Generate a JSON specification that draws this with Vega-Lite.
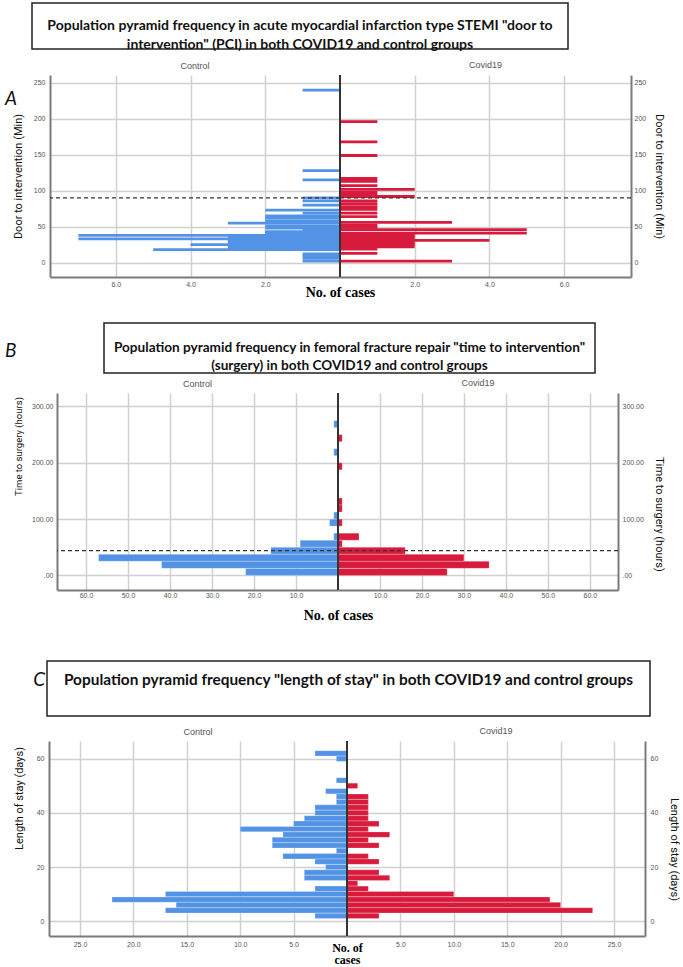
{
 "$schema": "https://vega.github.io/schema/vega-lite/v6.json",
 "padding": {"left": 5, "top": 2, "right": 0, "bottom": 0},
 "background": "white",
 "spacing": 0,
 "datasets": {
  "aCtrl": [{"v":240,"n":1},{"v":128,"n":1},{"v":115,"n":1},{"v":90,"n":1},{"v":86,"n":1},{"v":80,"n":1},{"v":73,"n":2},{"v":69,"n":1},{"v":65,"n":2},{"v":62,"n":2},{"v":58,"n":2},{"v":55,"n":3},{"v":51,"n":2},{"v":48,"n":2},{"v":46,"n":1},{"v":43,"n":2},{"v":41,"n":2},{"v":38,"n":7},{"v":36,"n":3},{"v":33,"n":7},{"v":30,"n":3},{"v":28,"n":3},{"v":25,"n":4},{"v":23,"n":3},{"v":20,"n":3},{"v":18,"n":5},{"v":12,"n":1},{"v":9,"n":1},{"v":6,"n":1},{"v":2,"n":1}],
  "aCov": [{"v":196,"n":1},{"v":168,"n":1},{"v":149,"n":1},{"v":117,"n":1},{"v":113,"n":1},{"v":107,"n":1},{"v":102,"n":2},{"v":98,"n":1},{"v":95,"n":1},{"v":92,"n":2},{"v":86,"n":1},{"v":82,"n":1},{"v":78,"n":1},{"v":74,"n":1},{"v":69,"n":1},{"v":64,"n":1},{"v":56,"n":3},{"v":52,"n":1},{"v":49,"n":1},{"v":46,"n":5},{"v":41,"n":5},{"v":38,"n":2},{"v":35,"n":2},{"v":31,"n":4},{"v":28,"n":2},{"v":25,"n":2},{"v":22,"n":2},{"v":19,"n":1},{"v":13,"n":1},{"v":2,"n":3}],
  "bCtrl": [{"v":268.75,"n":1},{"v":218.75,"n":1},{"v":106.25,"n":1},{"v":93.75,"n":2},{"v":68.75,"n":1},{"v":56.25,"n":9},{"v":43.75,"n":16},{"v":31.25,"n":57},{"v":18.75,"n":42},{"v":6.25,"n":22}],
  "bCov": [{"v":243.75,"n":1},{"v":193.75,"n":1},{"v":131.25,"n":1},{"v":118.75,"n":1},{"v":93.75,"n":1},{"v":68.75,"n":5},{"v":56.25,"n":1},{"v":43.75,"n":16},{"v":31.25,"n":30},{"v":18.75,"n":36},{"v":6.25,"n":26}],
  "cCtrl": [{"v":62,"n":3},{"v":60,"n":1},{"v":52,"n":1},{"v":48,"n":2},{"v":46,"n":1},{"v":44,"n":1},{"v":42,"n":3},{"v":40,"n":3},{"v":38,"n":4},{"v":36,"n":5},{"v":34,"n":10},{"v":32,"n":6},{"v":30,"n":7},{"v":28,"n":7},{"v":26,"n":1},{"v":24,"n":6},{"v":22,"n":3},{"v":20,"n":2},{"v":18,"n":4},{"v":16,"n":4},{"v":12,"n":3},{"v":10,"n":17},{"v":8,"n":22},{"v":6,"n":16},{"v":4,"n":17},{"v":2,"n":3}],
  "cCov": [{"v":50,"n":1},{"v":46,"n":2},{"v":44,"n":2},{"v":42,"n":2},{"v":40,"n":2},{"v":38,"n":2},{"v":36,"n":3},{"v":34,"n":2},{"v":32,"n":4},{"v":30,"n":2},{"v":28,"n":3},{"v":24,"n":2},{"v":22,"n":3},{"v":18,"n":3},{"v":16,"n":4},{"v":14,"n":1},{"v":12,"n":2},{"v":10,"n":10},{"v":8,"n":19},{"v":6,"n":20},{"v":4,"n":23},{"v":2,"n":3}]
 },
 "config": {
  "view": {"stroke": null},
  "font": "Liberation Sans",
  "axis": {"ticks": false, "labelFont": "Liberation Sans", "labelFontSize": 7, "labelColor": "#555", "domainColor": "#7a7a7a", "domainWidth": 2, "gridColor": "#d0d0d0", "gridWidth": 1.5, "titleFont": "Roboto", "titleFontSize": 11, "titleFontWeight": "normal", "titleColor": "#111"},
  "title": {"font": "Liberation Sans", "fontSize": 9, "fontWeight": "normal", "color": "#555", "offset": 4}
 },
 "vconcat": [
  {"hconcat": [
    {"width": 27, "height": 58, "data": {"values": [{}]}, "mark": {"type": "point", "opacity": 0}, "encoding": {}},
    {"width": 536, "height": 46, "data": {"values": [{"t": "Population pyramid frequency in acute myocardial infarction type STEMI \"door to\nintervention\" (PCI) in both COVID19 and control groups"}]},
     "mark": {"type": "text", "font": "Lato", "fontSize": 14, "fontWeight": "bold", "lineBreak": "\n", "lineHeight": 19, "color": "#111"},
     "encoding": {"text": {"field": "t"}}, "view": {"stroke": "#222", "strokeWidth": 1.5}}
   ], "spacing": 0, "bounds": "flush"},
  {"hconcat": [
    {"width": 45, "height": 247, "data": {"values": [{}]}, "mark": {"type": "point", "opacity": 0}, "encoding": {},
     "title": {"text": "A", "anchor": "start", "frame": "group", "font": "Lato", "fontSize": 19, "fontStyle": "italic", "color": "#111", "dy": 34, "offset": 0}},
    {"width": 290, "height": 202, "title": {"text": "Control"},
     "layer": [
      {"data": {"name": "aCtrl"}, "mark": {"type": "bar", "orient": "horizontal", "size": 2.8, "color": "#5393e5"},
       "encoding": {
        "y": {"field": "v", "type": "quantitative", "scale": {"domain": [-13, 254], "nice": false, "zero": false}, "axis": {"orient": "left", "values": [0, 50, 100, 150, 200, 250], "title": "Door to intervention (Min)", "titlePadding": 10, "labelPadding": 5}},
        "x": {"field": "n", "type": "quantitative", "scale": {"domain": [0, 7.76], "reverse": true, "nice": false}, "axis": {"values": [2, 4, 6], "format": ".1f", "title": null, "labelPadding": 3}}}},
      {"data": {"values": [{}]}, "mark": {"type": "rule", "color": "#333", "strokeDash": [4, 3], "strokeWidth": 1.2},
       "encoding": {"y": {"datum": 90, "type": "quantitative", "scale": {"domain": [-13, 254], "nice": false, "zero": false}}}}
     ]},
    {"width": 291, "height": 202, "title": {"text": "Covid19"},
     "layer": [
      {"data": {"name": "aCov"}, "mark": {"type": "bar", "orient": "horizontal", "size": 2.8, "color": "#d81a3d"},
       "encoding": {
        "y": {"field": "v", "type": "quantitative", "scale": {"domain": [-13, 254], "nice": false, "zero": false}, "axis": {"orient": "right", "values": [0, 50, 100, 150, 200, 250], "title": "Door to intervention (Min)", "titlePadding": 8, "labelPadding": 3}},
        "x": {"field": "n", "type": "quantitative", "scale": {"domain": [0, 7.79], "nice": false}, "axis": {"values": [2, 4, 6], "format": ".1f", "labelPadding": 3, "title": "No. of cases", "titleX": 0, "titleAlign": "center", "titleFont": "Liberation Serif", "titleFontWeight": "bold", "titleFontSize": 14, "titleColor": "#000", "titlePadding": -2}}}},
      {"data": {"values": [{}]}, "mark": {"type": "rule", "color": "#333", "strokeDash": [4, 3], "strokeWidth": 1.2},
       "encoding": {"y": {"datum": 90, "type": "quantitative", "scale": {"domain": [-13, 254], "nice": false, "zero": false}}}},
      {"data": {"values": [{}]}, "mark": {"type": "rule", "color": "#333", "strokeWidth": 2},
       "encoding": {"x": {"datum": 0, "type": "quantitative", "scale": {"domain": [0, 7.79], "nice": false}}}}
     ]}
   ], "spacing": 0, "bounds": "flush"},
  {"hconcat": [
    {"width": 99, "height": 56, "data": {"values": [{}]}, "mark": {"type": "point", "opacity": 0}, "encoding": {},
     "title": {"text": "B", "anchor": "start", "frame": "group", "font": "Lato", "fontSize": 19, "fontStyle": "italic", "color": "#111", "dy": 38, "offset": 0}},
    {"width": 491, "height": 50, "data": {"values": [{"t": "Population pyramid frequency in femoral fracture repair \"time to intervention\"\n(surgery) in both COVID19 and control groups"}]},
     "mark": {"type": "text", "font": "Lato", "fontSize": 13.6, "fontWeight": "bold", "lineBreak": "\n", "lineHeight": 18, "color": "#111"},
     "encoding": {"text": {"field": "t"}}, "view": {"stroke": "#222", "strokeWidth": 1.5}}
   ], "spacing": 0, "bounds": "flush"},
  {"hconcat": [
    {"width": 52, "height": 267, "data": {"values": [{}]}, "mark": {"type": "point", "opacity": 0}, "encoding": {}},
    {"width": 281, "height": 197, "title": {"text": "Control"},
     "layer": [
      {"data": {"name": "bCtrl"}, "mark": {"type": "bar", "orient": "horizontal", "size": 7, "color": "#5393e5", "stroke": "#ffffff", "strokeOpacity": 0.4, "strokeWidth": 0.6},
       "encoding": {
        "y": {"field": "v", "type": "quantitative", "scale": {"domain": [-17, 315], "nice": false, "zero": false}, "axis": {"orient": "left", "values": [0, 50, 100, 150, 200, 250, 300], "labelExpr": "datum.value == 0 ? '.00' : format(datum.value, '.2f')", "title": "Time to surgery  (hours)", "titleFontSize": 9.5, "titleY": 53, "titlePadding": 8, "labelPadding": 4}},
        "x": {"field": "n", "type": "quantitative", "scale": {"domain": [0, 66.9], "reverse": true, "nice": false}, "axis": {"values": [10, 20, 30, 40, 50, 60], "format": ".1f", "title": null, "labelPadding": 1}}}},
      {"data": {"values": [{}]}, "mark": {"type": "rule", "color": "#333", "strokeDash": [4, 3], "strokeWidth": 1.2},
       "encoding": {"y": {"datum": 44, "type": "quantitative", "scale": {"domain": [-17, 315], "nice": false, "zero": false}}}}
     ]},
    {"width": 280, "height": 197, "title": {"text": "Covid19"},
     "layer": [
      {"data": {"name": "bCov"}, "mark": {"type": "bar", "orient": "horizontal", "size": 7, "color": "#d81a3d", "stroke": "#ffffff", "strokeOpacity": 0.4, "strokeWidth": 0.6},
       "encoding": {
        "y": {"field": "v", "type": "quantitative", "scale": {"domain": [-17, 315], "nice": false, "zero": false}, "axis": {"orient": "right", "values": [0, 50, 100, 150, 200, 250, 300], "labelExpr": "datum.value == 0 ? '.00' : format(datum.value, '.2f')", "title": "Time to surgery    (hours)", "titleY": 121, "titlePadding": 10, "labelPadding": 4}},
        "x": {"field": "n", "type": "quantitative", "scale": {"domain": [0, 66.7], "nice": false}, "axis": {"values": [10, 20, 30, 40, 50, 60], "format": ".1f", "labelPadding": 1, "title": "No. of cases", "titleX": 0, "titleAlign": "center", "titleFont": "Liberation Serif", "titleFontWeight": "bold", "titleFontSize": 14, "titleColor": "#000", "titlePadding": 10}}}},
      {"data": {"values": [{}]}, "mark": {"type": "rule", "color": "#333", "strokeDash": [4, 3], "strokeWidth": 1.2},
       "encoding": {"y": {"datum": 44, "type": "quantitative", "scale": {"domain": [-17, 315], "nice": false, "zero": false}}}},
      {"data": {"values": [{}]}, "mark": {"type": "rule", "color": "#333", "strokeWidth": 2},
       "encoding": {"x": {"datum": 0, "type": "quantitative", "scale": {"domain": [0, 66.7], "nice": false}}}}
     ]}
   ], "spacing": 0, "bounds": "flush"},
  {"hconcat": [
    {"width": 42, "height": 66, "data": {"values": [{}]}, "mark": {"type": "point", "opacity": 0}, "encoding": {},
     "title": {"text": "C", "anchor": "end", "frame": "group", "font": "Lato", "fontSize": 19, "fontStyle": "italic", "color": "#111", "dy": 29, "dx": -2, "offset": 0}},
    {"width": 603, "height": 55, "data": {"values": [{"t": "Population pyramid frequency \"length of stay\" in both COVID19 and control groups"}]},
     "mark": {"type": "text", "font": "Lato", "fontSize": 15.4, "fontWeight": "bold", "dy": -9, "color": "#111"},
     "encoding": {"text": {"field": "t"}}, "view": {"stroke": "#222", "strokeWidth": 1.5}}
   ], "spacing": 0, "bounds": "flush"},
  {"hconcat": [
    {"width": 44, "height": 195, "data": {"values": [{}]}, "mark": {"type": "point", "opacity": 0}, "encoding": {}},
    {"width": 298, "height": 195, "title": {"text": "Control"},
     "layer": [
      {"data": {"name": "cCtrl"}, "mark": {"type": "bar", "orient": "horizontal", "size": 5.3, "color": "#5393e5", "stroke": "#ffffff", "strokeOpacity": 0.4, "strokeWidth": 0.6},
       "encoding": {
        "y": {"field": "v", "type": "quantitative", "scale": {"domain": [-3.6, 64.7], "nice": false, "zero": false}, "axis": {"orient": "left", "values": [0, 20, 40, 60], "title": "Length of stay   (days)", "titleY": 57, "titlePadding": 12, "labelPadding": 5}},
        "x": {"field": "n", "type": "quantitative", "scale": {"domain": [0, 27.9], "reverse": true, "nice": false}, "axis": {"values": [5, 10, 15, 20, 25], "format": ".1f", "title": null, "labelPadding": 4}}}}
     ]},
    {"width": 298, "height": 195, "title": {"text": "Covid19"},
     "layer": [
      {"data": {"name": "cCov"}, "mark": {"type": "bar", "orient": "horizontal", "size": 5.3, "color": "#d81a3d", "stroke": "#ffffff", "strokeOpacity": 0.4, "strokeWidth": 0.6},
       "encoding": {
        "y": {"field": "v", "type": "quantitative", "scale": {"domain": [-3.6, 64.7], "nice": false, "zero": false}, "axis": {"orient": "right", "values": [0, 20, 40, 60], "title": "Length of stay    (days)", "titleY": 108, "titlePadding": 11, "labelPadding": 5}},
        "x": {"field": "n", "type": "quantitative", "scale": {"domain": [0, 27.9], "nice": false}, "axis": {"values": [5, 10, 15, 20, 25], "format": ".1f", "labelPadding": 4, "title": ["No. of", "cases"], "titleLineHeight": 12, "titleX": 0, "titleAlign": "center", "titleFont": "Liberation Serif", "titleFontWeight": "bold", "titleFontSize": 12, "titleColor": "#000", "titlePadding": -5}}}},
      {"data": {"values": [{}]}, "mark": {"type": "rule", "color": "#333", "strokeWidth": 2},
       "encoding": {"x": {"datum": 0, "type": "quantitative", "scale": {"domain": [0, 27.9], "nice": false}}}}
     ]}
   ], "spacing": 0, "bounds": "flush"}
 ]
}
